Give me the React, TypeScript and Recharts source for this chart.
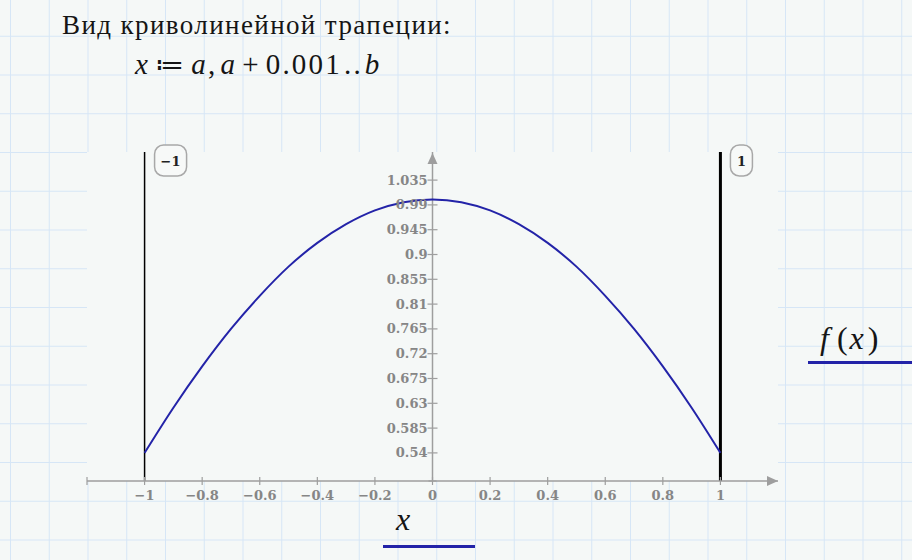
import React from "react";
import { CartesianGrid, ComposedChart, Line, ReferenceDot, ReferenceLine, XAxis, YAxis } from "recharts";

const xValues = [-1, -0.9, -0.8, -0.7, -0.6, -0.5, -0.4, -0.3, -0.2, -0.1, 0, 0.1, 0.2, 0.3, 0.4, 0.5, 0.6, 0.7, 0.8, 0.9, 1];
const fValues = [0.54, 0.622, 0.697, 0.765, 0.825, 0.878, 0.921, 0.955, 0.98, 0.995, 1, 0.995, 0.98, 0.955, 0.921, 0.878, 0.825, 0.765, 0.697, 0.622, 0.54];

const xTicks = [-1, -0.8, -0.6, -0.4, -0.2, 0, 0.2, 0.4, 0.6, 0.8, 1];
const xTickMarks = [-1.2, -1, -0.8, -0.6, -0.4, -0.2, 0, 0.2, 0.4, 0.6, 0.8, 1];
const yTicks = [0.54, 0.585, 0.63, 0.675, 0.72, 0.765, 0.81, 0.855, 0.9, 0.945, 0.99, 1.035];
const xDomain: [number, number] = [-1.2, 1.2];
const yDomain: [number, number] = [0.489, 1.086];

const boundValues = [-1, 1];
const boundLabels = ["\u22121", "1"];

const data = xValues.map((x, i) => ({ x, f: fValues[i] }));

const axisColor = "#9e9e9e";
const traceColor = "#2323a8";
const mathFont = "Liberation Serif";
const tickFont = { fill: "#868686", fontFamily: "DejaVu Serif", fontWeight: 700, fontSize: 13 };
const minus = (v: number) => String(v).replace("-", "\u2212");

export default function App() {
  return (
    <div
      style={{
        position: "absolute",
        left: 0,
        top: 0,
        width: 912,
        height: 560,
        backgroundColor: "#f5f8f7",
        backgroundImage:
          "linear-gradient(to right, #d6e6f6 1px, transparent 1px), linear-gradient(to bottom, #d6e6f6 1px, transparent 1px)",
        backgroundSize: "38.75px 38.75px",
        backgroundPosition: "10px 35.75px",
        overflow: "hidden",
      }}
    >
      <div style={{ position: "absolute", left: 62, top: 12, fontFamily: "Liberation Serif", fontSize: 27, letterSpacing: 1.4, lineHeight: 1, color: "#151515", whiteSpace: "nowrap" }}>
        Вид криволинейной трапеции:
      </div>
      <div style={{ position: "absolute", left: 135, top: 50, fontFamily: mathFont, fontSize: 29, letterSpacing: 2.2, lineHeight: 1, color: "#151515", whiteSpace: "nowrap" }}>
        <i>x</i>
        <span style={{ margin: "0 5px" }}>≔</span>
        <i>a</i>,<i style={{ marginLeft: 3 }}>a</i>
        <span style={{ margin: "0 5px" }}>+</span>0.001<span style={{ margin: "0 2px" }}>..</span>
        <i>b</i>
      </div>

      <ComposedChart width={912} height={560} data={data} margin={{ top: 152, right: 134, bottom: 49, left: 87 }}>
        <CartesianGrid horizontal={false} vertical={false} fill="#f5f8f7" />
        <XAxis
          type="number"
          dataKey="x"
          domain={xDomain}
          ticks={xTicks}
          allowDataOverflow
          height={30}
          axisLine={{ stroke: axisColor, strokeWidth: 1.5 }}
          tickLine={false}
          tickSize={6}
          tickMargin={4}
          tick={tickFont}
          tickFormatter={minus}
        />
        <YAxis hide type="number" domain={yDomain} allowDataOverflow />
        <ReferenceLine x={0} stroke={axisColor} strokeWidth={1.5} ifOverflow="visible" />
        {xTickMarks.map((t) => (
          <ReferenceDot
            key={"xt" + t}
            x={t}
            y={yDomain[0]}
            ifOverflow="visible"
            shape={(p: any) => <line x1={p.cx} x2={p.cx} y1={p.cy - 4} y2={p.cy + 4} stroke={axisColor} strokeWidth={1.2} />}
          />
        ))}
        {yTicks.map((t) => (
          <ReferenceDot
            key={"yt" + t}
            x={0}
            y={t}
            ifOverflow="visible"
            shape={(p: any) => (
              <g>
                <line x1={p.cx - 5} x2={p.cx + 5} y1={p.cy} y2={p.cy} stroke={axisColor} strokeWidth={1.2} />
                <text x={p.cx - 5} y={p.cy} textAnchor="end" dominantBaseline="central" {...tickFont}>
                  {t}
                </text>
              </g>
            )}
          />
        ))}
        <ReferenceDot
          x={0}
          y={yDomain[0]}
          ifOverflow="visible"
          shape={(p: any) => <line x1={p.cx - 4} x2={p.cx + 4} y1={p.cy} y2={p.cy} stroke={axisColor} strokeWidth={1.2} />}
        />
        <ReferenceDot
          x={xDomain[1]}
          y={yDomain[0]}
          ifOverflow="visible"
          shape={(p: any) => <path d={`M${p.cx},${p.cy} L${p.cx - 11},${p.cy - 5} L${p.cx - 11},${p.cy + 5} Z`} fill={axisColor} />}
        />
        <ReferenceDot
          x={0}
          y={yDomain[1]}
          ifOverflow="visible"
          shape={(p: any) => <path d={`M${p.cx},${p.cy + 1} L${p.cx - 5},${p.cy + 12} L${p.cx + 5},${p.cy + 12} Z`} fill={axisColor} />}
        />
        {boundValues.map((b, i) => (
          <ReferenceLine key={"b" + b} x={b} stroke="#000" strokeWidth={i === 0 ? 1.5 : 3} ifOverflow="visible" />
        ))}
        <Line type="monotone" dataKey="f" stroke={traceColor} strokeWidth={2} dot={false} isAnimationActive={false} />
        {boundValues.map((b, i) => {
          const label = boundLabels[i];
          const w = 12 + 10 * label.length;
          return (
            <ReferenceDot
              key={"bl" + b}
              x={b}
              y={yDomain[1]}
              ifOverflow="visible"
              shape={(p: any) => (
                <g>
                  <rect x={p.cx + 10} y={p.cy - 7} width={w} height={31} rx={9} fill="#f7f9f8" stroke="#a8a8a8" strokeWidth={1.5} />
                  <text x={p.cx + 10 + w / 2} y={p.cy + 9} textAnchor="middle" dominantBaseline="central" fontFamily="DejaVu Serif" fontWeight={700} fontSize={13} fill="#222">
                    {label}
                  </text>
                </g>
              )}
            />
          );
        })}
      </ComposedChart>

      <div style={{ position: "absolute", left: 820, top: 322, fontFamily: mathFont, fontSize: 32, lineHeight: 1, color: "#151515", whiteSpace: "nowrap" }}>
        <i>f</i>
        <span style={{ marginLeft: 8 }}>(</span>
        <i style={{ marginLeft: 2 }}>x</i>
        <span style={{ marginLeft: 4 }}>)</span>
      </div>
      <div style={{ position: "absolute", left: 808, top: 361, width: 104, height: 3, background: traceColor }} />
      <div style={{ position: "absolute", left: 396, top: 503, fontFamily: mathFont, fontSize: 32, lineHeight: 1, color: "#151515" }}>
        <i>x</i>
      </div>
      <div style={{ position: "absolute", left: 383, top: 545, width: 92, height: 3, background: traceColor }} />
    </div>
  );
}
